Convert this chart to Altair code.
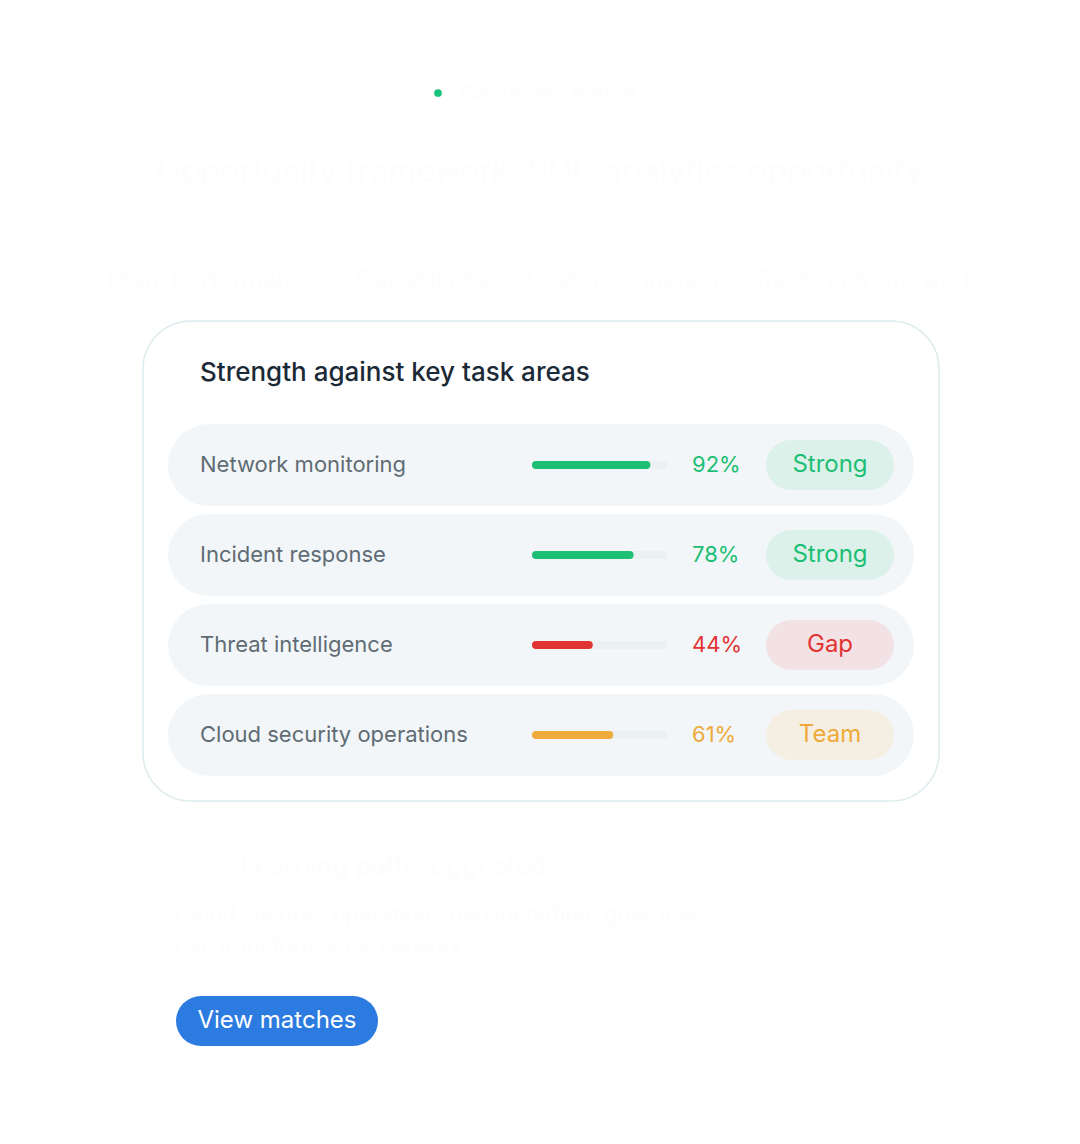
import altair as alt
import pandas as pd

areas = ["Network monitoring", "Incident response", "Threat intelligence", "Cloud security operations"]
scores = [92, 78, 44, 61]
statuses = ["Strong", "Strong", "Gap", "Team"]

status_domain = ["Strong", "Gap", "Team"]
status_colors = ["#1cbf74", "#e23333", "#eeaa3a"]
badge_colors = ["#dcf1e9", "#f3e2e5", "#f5efe3"]

card_title = "Strength against key task areas"
kicker = "Candidate match"
headline = "Opportunity framework: SOC analytics opportunity"
subline = "Team performance — Capabilities — Customer impact — Ranking framework"
foot_head = "Learning path suggested"
foot_lines = ["Cloud security operations gap identified; guardrails", "can transform your network."]
button_text = "View matches"

df = pd.DataFrame({"area": areas, "score": scores, "status": statuses,
                   "pct": [f"{s}%" for s in scores], "zero": [0] * len(areas)})
one = pd.DataFrame({"k": [0]})

FONT = "Inter"
faint = "#fcfdfd"

Y = alt.Y("area:N", sort=areas, axis=None,
          scale=alt.Scale(type="point", domain=areas, range=[457, 727], padding=0))
X = alt.X("zero:Q", axis=None, scale=alt.Scale(domain=[0, 100], range=[528, 648]))
scol = alt.Color("status:N", legend=None, scale=alt.Scale(domain=status_domain, range=status_colors))
bcol = alt.Color("status:N", legend=None, scale=alt.Scale(domain=status_domain, range=badge_colors))

base1 = alt.Chart(one)

def txt(text, x, y, size, color, align="left", weight=400):
    return base1.mark_text(text=text, font=FONT, fontSize=size, color=color, align=align,
                           baseline="middle", fontWeight=weight).encode(x=alt.value(x), y=alt.value(y))

card = base1.mark_rect(fill="white", stroke="#dcebee", strokeWidth=1.5, cornerRadius=48).encode(
    x=alt.value(135), x2=alt.value(931), y=alt.value(313), y2=alt.value(793))

rows = alt.Chart(df).mark_rule(strokeWidth=82, strokeCap="round", color="#f2f6f9").encode(
    x=alt.value(201), x2=alt.value(865), y=Y)

labels = alt.Chart(df).mark_text(font=FONT, fontSize=22, color="#5f6c74", align="left",
                                 baseline="middle").encode(x=alt.value(192), y=Y, text="area:N")

track = alt.Chart(df).mark_rule(strokeWidth=8, strokeCap="round", color="#ebf1f3").encode(
    x=alt.value(528), x2=alt.value(655), y=Y)

bars = alt.Chart(df).mark_rule(strokeWidth=8, strokeCap="round").encode(
    x=X, x2="score:Q", y=Y, color=scol)

pcts = alt.Chart(df).mark_text(font=FONT, fontSize=22, align="left", baseline="middle").encode(
    x=alt.value(684), y=Y, text="pct:N", color=scol)

badges = alt.Chart(df).mark_rule(strokeWidth=50, strokeCap="round").encode(
    x=alt.value(783), x2=alt.value(861), y=Y, color=bcol)

badge_txt = alt.Chart(df).mark_text(font=FONT, fontSize=24, align="center", baseline="middle").encode(
    x=alt.value(822), y=Y, text="status:N", color=scol)

dot = base1.mark_circle(size=60, color="#19c37d", opacity=1).encode(x=alt.value(430), y=alt.value(85))

button = base1.mark_rule(strokeWidth=50, strokeCap="round", color="#2b7be0").encode(
    x=alt.value(193), x2=alt.value(345), y=alt.value(1013))

layers = [
    card, rows, labels, track, bars, pcts, badges, badge_txt, dot, button,
    txt(card_title, 192, 365, 26, "#1b2a36", weight=500),
    txt(kicker, 452, 86, 22, faint),
    txt(headline, 532, 164, 32, faint, align="center"),
    txt(subline, 532, 272, 24, faint, align="center"),
    txt(foot_head, 232, 859, 26, faint),
    txt(foot_lines[0], 167, 907, 22, faint),
    txt(foot_lines[1], 167, 939, 22, faint),
    txt(button_text, 269, 1013, 24, "white", align="center"),
]

chart = alt.layer(*layers).resolve_scale(color="independent").properties(
    width=1064, height=1128, autosize=alt.AutoSizeParams(type="none"), padding=0,
    background="white",
).configure_view(stroke=None)

chart.save("out.html", embed_options={"renderer": "svg", "actions": False})
